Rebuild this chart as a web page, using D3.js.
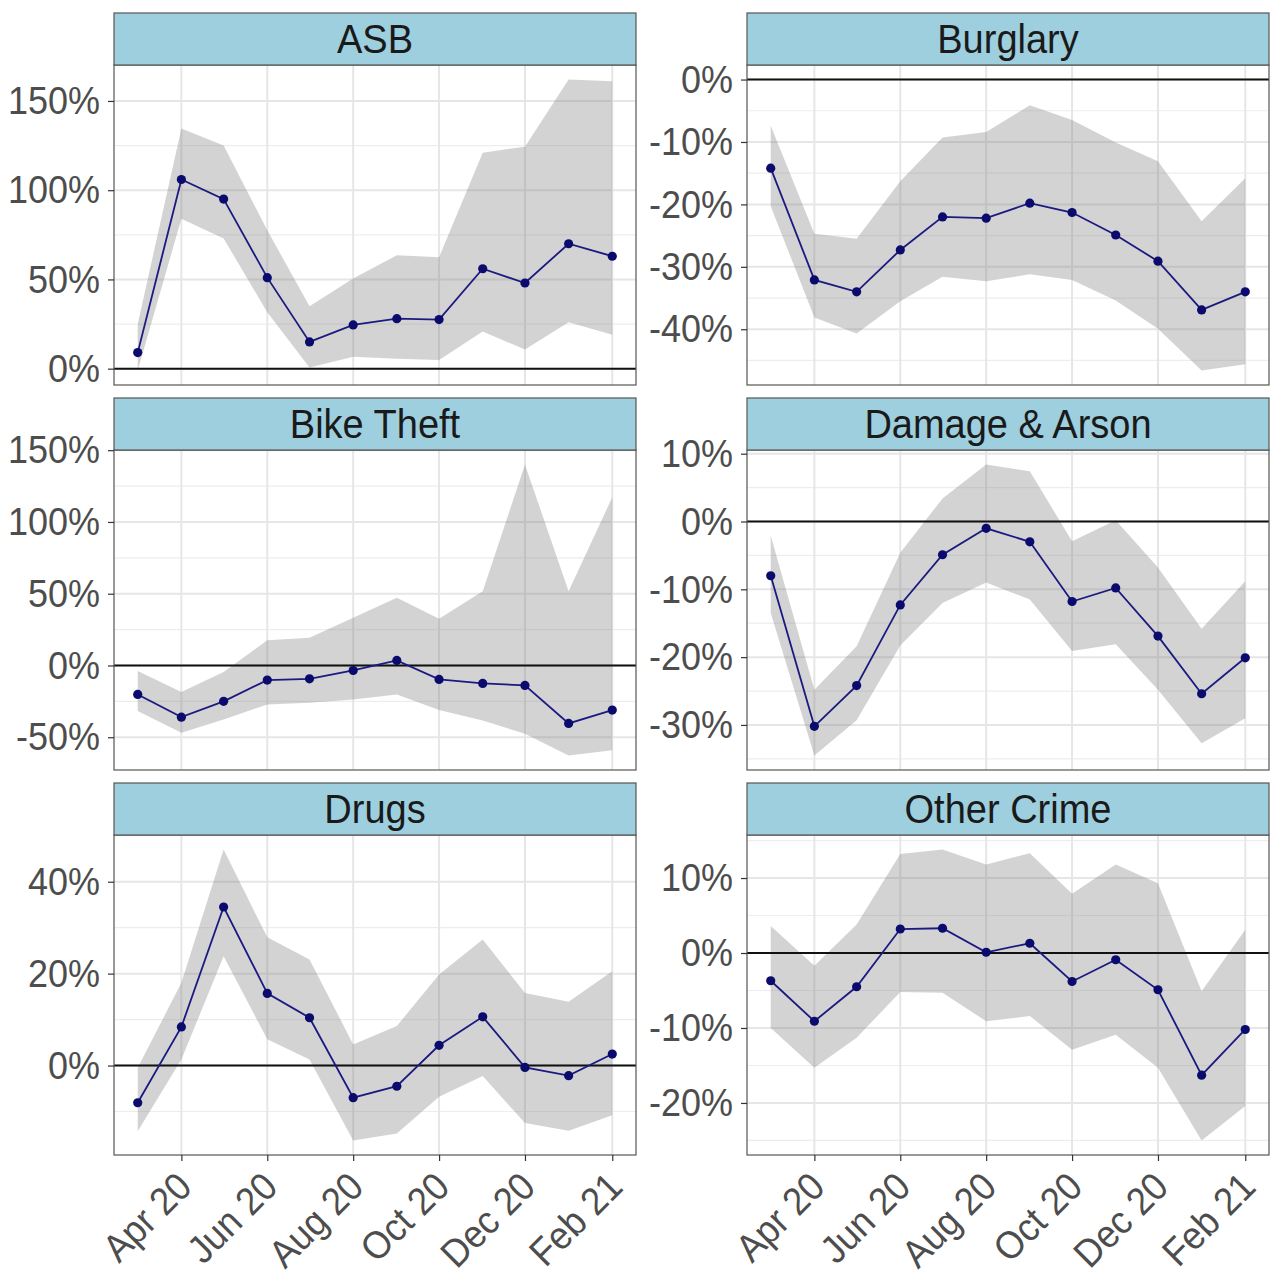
<!DOCTYPE html>
<html>
<head>
<meta charset="utf-8">
<script src="https://cdn.jsdelivr.net/npm/d3@7"></script>
<style>
  body { margin: 0; background: #fff; }
  text { font-family: "Liberation Sans", Arial, sans-serif; }
</style>
</head>
<body>
<svg width="1270" height="1273"></svg>
<script>
// months (first of month), Mar 2020 - Feb 2021
var months = ["2020-03-01","2020-04-01","2020-05-01","2020-06-01","2020-07-01","2020-08-01",
              "2020-09-01","2020-10-01","2020-11-01","2020-12-01","2021-01-01","2021-02-01"];
var xTickDates = ["2020-04-01","2020-06-01","2020-08-01","2020-10-01","2020-12-01","2021-02-01"];

var crimes = ["ASB", "Burglary", "Bike Theft", "Damage & Arson", "Drugs", "Other Crime"];

// % change estimates, lower and upper bounds
var asbEst = [9, 106, 95, 51, 15, 24.5, 28, 27.5, 56, 48, 70, 63];
var asbLo  = [-1, 84, 73, 31.6, 0.6, 6.7, 5.5, 4.9, 20.8, 10.7, 26, 19];
var asbHi  = [25, 134.6, 125, 77.5, 35, 50.5, 63.5, 62.5, 121, 124.4, 162, 161];

var burgEst = [-14.2, -32.1, -34.0, -27.3, -22.0, -22.2, -19.8, -21.3, -24.9, -29.1, -36.9, -34.0];
var burgLo  = [-20.3, -38.1, -40.7, -35.5, -31.6, -32.3, -31.2, -32.1, -35.4, -39.9, -46.6, -45.6];
var burgHi  = [-7.4, -24.7, -25.5, -16.3, -9.3, -8.4, -4.1, -6.5, -10.1, -13.1, -22.7, -15.8];

var bikeEst = [-20.2, -36, -25, -10.2, -9.3, -3.5, 3.5, -9.7, -12.5, -13.9, -40.4, -31.1];
var bikeLo  = [-31.8, -46.9, -37.6, -27.2, -26, -23.7, -20.2, -31.1, -38.3, -47.6, -62.7, -59];
var bikeHi  = [-3.9, -18.5, -4.6, 17.6, 19.3, 33.2, 47.1, 32.5, 51.7, 140, 51.7, 117.2];

var damEst = [-8.0, -30.2, -24.2, -12.3, -4.9, -1.0, -3.0, -11.8, -9.8, -16.9, -25.4, -20.1];
var damLo  = [-13.5, -34.5, -29.3, -18.3, -12, -9.0, -11.5, -19.1, -18.1, -24.8, -32.7, -29];
var damHi  = [-2.1, -24.8, -18.4, -4.6, 3.4, 8.4, 7.4, -2.9, 0.2, -6.8, -15.8, -8.8];

var drugEst = [-8.1, 8.4, 34.5, 15.7, 10.4, -7.0, -4.5, 4.4, 10.6, -0.4, -2.2, 2.5];
var drugLo  = [-14.3, 1.3, 23.8, 5.7, 1.3, -16.3, -14.8, -6.8, -2.3, -12.5, -14.2, -10.8];
var drugHi  = [-0.5, 18.0, 47, 27.9, 23.1, 4.6, 8.6, 19.8, 27.4, 15.8, 13.9, 20.5];

var othEst = [-3.7, -9.1, -4.5, 3.2, 3.3, 0.1, 1.3, -3.8, -0.9, -4.9, -16.3, -10.2];
var othLo  = [-10, -15.3, -11.3, -5.2, -5.3, -9.1, -8.4, -12.9, -10.9, -15.3, -25, -20.4];
var othHi  = [3.6, -1.7, 3.8, 13.2, 13.8, 11.8, 13.3, 7.9, 11.8, 9.3, -5.1, 3.1];

var yTicks = [
  [0, 50, 100, 150],
  [-40, -30, -20, -10, 0],
  [-50, 0, 50, 100, 150],
  [-30, -20, -10, 0, 10],
  [0, 20, 40],
  [-20, -10, 0, 10]
];

var estimates = [asbEst, burgEst, bikeEst, damEst, drugEst, othEst];
var lowers    = [asbLo, burgLo, bikeLo, damLo, drugLo, othLo];
var uppers    = [asbHi, burgHi, bikeHi, damHi, drugHi, othHi];

var parseDate = d3.timeParse("%Y-%m-%d");
var dates = months.map(parseDate);
var tickDates = xTickDates.map(parseDate);

var svg = d3.select("svg");

var colX = [114, 747],
    rowY = [13, 398, 783],
    panelW = 522,
    stripH = 52,
    panelH = 320;

// shared x scale with 5% expansion
var xExt = d3.extent(dates);
var xPad = (xExt[1] - xExt[0]) * 0.05;
var x = d3.scaleTime()
  .domain([new Date(+xExt[0] - xPad), new Date(+xExt[1] + xPad)])
  .range([0, panelW]);

crimes.forEach(function(name, i) {
  var col = i % 2, row = Math.floor(i / 2);
  var rows = dates.map(function(d, j) {
    return {date: d, est: estimates[i][j], lo: lowers[i][j], hi: uppers[i][j]};
  });

  var all = lowers[i].concat(uppers[i]).concat(estimates[i]).concat([0]);
  var yExt = d3.extent(all);
  var yPad = (yExt[1] - yExt[0]) * 0.05;
  var y = d3.scaleLinear()
    .domain([yExt[0] - yPad, yExt[1] + yPad])
    .range([panelH, 0]);

  var g = svg.append("g")
    .attr("transform", "translate(" + colX[col] + "," + (rowY[row] + stripH) + ")");

  // strip
  svg.append("rect")
    .attr("x", colX[col]).attr("y", rowY[row])
    .attr("width", panelW).attr("height", stripH)
    .attr("fill", "#9ecfdf")
    .attr("stroke", "#555").attr("stroke-width", 1.2);
  svg.append("text")
    .attr("transform", "translate(" + (colX[col] + panelW / 2) + "," + (rowY[row] + stripH / 2) + ") scale(1,1.05)")
    .attr("dy", "0.36em")
    .attr("text-anchor", "middle")
    .attr("font-size", 38)
    .attr("fill", "#1a1a1a")
    .text(name);

  // minor gridlines (y)
  var tk = yTicks[i], step = tk[1] - tk[0];
  var minor = [];
  for (var v = tk[0] - step / 2; v <= tk[tk.length - 1] + step; v += step) minor.push(v);
  minor = minor.filter(function(v) { return v >= y.domain()[0] && v <= y.domain()[1]; });

  g.selectAll(".minor")
    .data(minor)
    .enter().append("line")
      .attr("x1", 0).attr("x2", panelW)
      .attr("y1", y).attr("y2", y)
      .attr("stroke", "#ededed").attr("stroke-width", 1.2);

  g.selectAll(".gy")
    .data(tk)
    .enter().append("line")
      .attr("x1", 0).attr("x2", panelW)
      .attr("y1", y).attr("y2", y)
      .attr("stroke", "#e6e6e6").attr("stroke-width", 2);

  g.selectAll(".gx")
    .data(tickDates)
    .enter().append("line")
      .attr("x1", x).attr("x2", x)
      .attr("y1", 0).attr("y2", panelH)
      .attr("stroke", "#e6e6e6").attr("stroke-width", 2);

  // ribbon
  g.append("path")
    .datum(rows)
    .attr("fill", "#7f7f7f")
    .attr("fill-opacity", 0.34)
    .attr("d", d3.area()
      .x(function(d) { return x(d.date); })
      .y0(function(d) { return y(d.lo); })
      .y1(function(d) { return y(d.hi); }));

  // zero line
  g.append("line")
    .attr("x1", 0).attr("x2", panelW)
    .attr("y1", y(0)).attr("y2", y(0))
    .attr("stroke", "#111").attr("stroke-width", 2);

  g.append("path")
    .datum(rows)
    .attr("fill", "none")
    .attr("stroke", "#1a1a80")
    .attr("stroke-width", 1.8)
    .attr("d", d3.line()
      .x(function(d) { return x(d.date); })
      .y(function(d) { return y(d.est); }));

  g.selectAll(".pt")
    .data(rows)
    .enter().append("circle")
      .attr("cx", function(d) { return x(d.date); })
      .attr("cy", function(d) { return y(d.est); })
      .attr("r", 4.6)
      .attr("fill", "#0b0b6e");

  // border
  g.append("rect")
    .attr("width", panelW).attr("height", panelH)
    .attr("fill", "none")
    .attr("stroke", "#555").attr("stroke-width", 1.2);

  // y axis
  var yAxis = g.append("g")
    .call(d3.axisLeft(y).tickValues(tk).tickSize(6).tickPadding(8)
      .tickFormat(function(d) { return d + "%"; }));
  yAxis.select(".domain").remove();
  yAxis.selectAll(".tick line").attr("stroke", "#333").attr("stroke-width", 1.2);
  yAxis.selectAll("text")
    .attr("font-size", 36)
    .attr("font-family", "Liberation Sans, Arial, sans-serif")
    .attr("fill", "#4d4d4d")
    .attr("transform", "scale(1,1.1)");

  // x axis only on bottom row
  if (row === 2) {
    var xAxis = g.append("g")
      .attr("transform", "translate(0," + panelH + ")")
      .call(d3.axisBottom(x).tickValues(tickDates).tickSize(6)
        .tickFormat(d3.timeFormat("%b %y")));
    xAxis.select(".domain").remove();
    xAxis.selectAll(".tick line").attr("stroke", "#333").attr("stroke-width", 1.2);
    xAxis.selectAll("text")
      .attr("font-size", 36)
      .attr("font-family", "Liberation Sans, Arial, sans-serif")
      .attr("fill", "#4d4d4d")
      .attr("text-anchor", "end")
      .attr("y", 0).attr("dy", 0)
      .attr("transform", "translate(12,34) rotate(-45) scale(1,1.08)");
  }
});
</script>
</body>
</html>
